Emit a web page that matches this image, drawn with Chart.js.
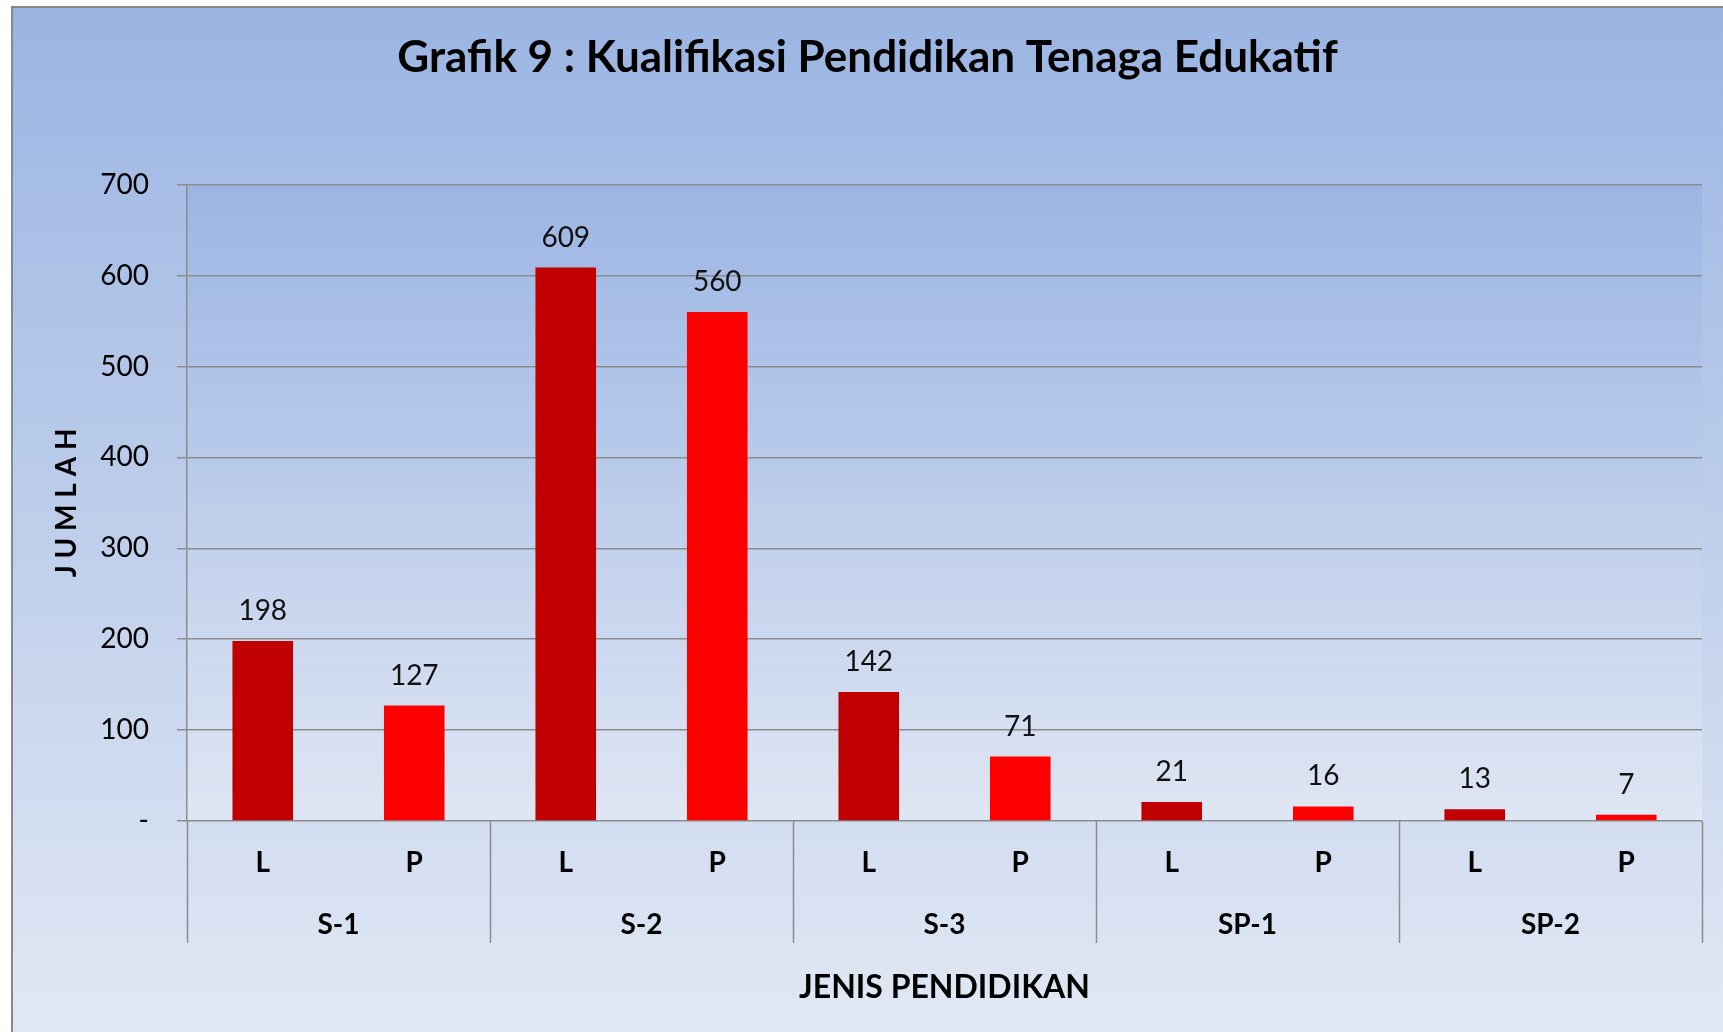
<!DOCTYPE html>
<html lang="id">
<head>
  <meta charset="UTF-8" />
  <title>Grafik 9 : Kualifikasi Pendidikan Tenaga Edukatif</title>
  <script src="https://cdn.jsdelivr.net/npm/chart.js"></script>
  <style>
    body {
      margin: 0;
      background: #ffffff;
    }
    .wrap {
      width: 1723px;
      height: 1032px;
    }
  </style>
</head>
<body>

<div class="wrap">
  <canvas id="grafik9" width="1723" height="1032"></canvas>
</div>

<script>
  // Data grafik
  const jenisPendidikan = ['S-1', 'S-2', 'S-3', 'SP-1', 'SP-2'];
  const jenisKelamin = ['L', 'P'];
  const jumlahL = [198, 609, 142, 21, 13];
  const jumlahP = [127, 560, 71, 16, 7];
  const yTicks = [0, 100, 200, 300, 400, 500, 600, 700];

  const warnaL = '#C00000';
  const warnaP = '#FF0000';
  const abu = '#8c8c8c';
  const FONT = 'Lato, "Open Sans", sans-serif';

  // label L/P untuk tiap batang, nilai dan warna dibentuk dari array di atas
  const labelBatang = jenisPendidikan.flatMap(() => jenisKelamin);
  const nilaiBatang = jenisPendidikan.flatMap((g, i) => [jumlahL[i], jumlahP[i]]);
  const warnaBatang = jenisPendidikan.flatMap(() => [warnaL, warnaP]);

  // latar belakang bergradasi + bingkai
  const latarPlugin = {
    id: 'latar',
    beforeDraw(chart) {
      const { ctx, width, height, chartArea } = chart;
      ctx.save();
      ctx.fillStyle = '#ffffff';
      ctx.fillRect(0, 0, width, height);

      let g = ctx.createLinearGradient(0, 7, 0, height);
      g.addColorStop(0, '#9ab4e2');
      g.addColorStop(1, '#e1e8f4');
      ctx.fillStyle = g;
      ctx.fillRect(12, 7, width - 12, height - 7);

      g = ctx.createLinearGradient(0, chartArea.top, 0, chartArea.bottom);
      g.addColorStop(0, '#9bb5e3');
      g.addColorStop(1, '#dfe6f3');
      ctx.fillStyle = g;
      ctx.fillRect(chartArea.left, chartArea.top, chartArea.right - chartArea.left, chartArea.bottom - chartArea.top);

      // bingkai kiri & atas
      ctx.strokeStyle = '#888888';
      ctx.lineWidth = 2;
      ctx.beginPath();
      ctx.moveTo(12, height);
      ctx.lineTo(12, 7);
      ctx.lineTo(width, 7);
      ctx.stroke();
      ctx.restore();
    }
  };

  // garis pemisah antar jenis pendidikan + angka di atas batang
  const labelPlugin = {
    id: 'labelBatang',
    afterDraw(chart) {
      const { ctx, chartArea } = chart;
      const x = chart.scales.x;
      const half = (x.getPixelForValue(1) - x.getPixelForValue(0)) / 2;
      ctx.save();
      ctx.strokeStyle = abu;
      ctx.lineWidth = 1.5;
      for (let k = 0; k <= jenisPendidikan.length; k++) {
        const px = Math.round(x.getPixelForValue(k * 2) - half) + 0.5;
        ctx.beginPath();
        ctx.moveTo(px, chartArea.bottom);
        ctx.lineTo(px, chartArea.bottom + 122);
        ctx.stroke();
      }

      ctx.fillStyle = '#111111';
      ctx.font = '28px ' + FONT;
      ctx.textAlign = 'center';
      ctx.textBaseline = 'middle';
      const meta = chart.getDatasetMeta(0);
      meta.data.forEach((bar, i) => {
        ctx.fillText(nilaiBatang[i], bar.x, bar.y - 30);
      });
      ctx.restore();
    }
  };

  new Chart(document.getElementById('grafik9'), {
    type: 'bar',
    data: {
      labels: labelBatang,
      datasets: [{
        data: nilaiBatang,
        backgroundColor: warnaBatang,
        borderWidth: 0,
        barPercentage: 0.4,
        categoryPercentage: 1.0
      }]
    },
    options: {
      responsive: false,
      devicePixelRatio: 1,
      animation: false,
      layout: { padding: { left: 12, right: 0, top: 0, bottom: 0 } },
      plugins: {
        legend: { display: false },
        tooltip: { enabled: false },
        title: {
          display: true,
          text: 'Grafik 9 : Kualifikasi Pendidikan Tenaga Edukatif',
          color: '#000000',
          font: { family: FONT, size: 44, weight: 'bold' },
          padding: { top: 31, bottom: 101 }
        }
      },
      scales: {
        x: {
          type: 'category',
          offset: true,
          grid: { display: false },
          border: { display: false },
          ticks: {
            color: '#000000',
            font: { family: FONT, size: 28, weight: 'bold' },
            padding: 17,
            maxRotation: 0,
            autoSkip: false
          },
          afterFit: s => { s.height = 70; }
        },
        x2: {
          type: 'category',
          position: 'bottom',
          labels: jenisPendidikan,
          offset: true,
          grid: { display: false },
          border: { display: false },
          ticks: {
            color: '#000000',
            font: { family: FONT, size: 28, weight: 'bold' },
            padding: 9,
            maxRotation: 0,
            autoSkip: false
          },
          title: {
            display: true,
            text: 'JENIS PENDIDIKAN',
            color: '#000000',
            font: { family: FONT, size: 32, weight: 'bold' },
            padding: { top: 0, bottom: 25 }
          },
          afterFit: s => { s.height = 141; }
        },
        y: {
          min: 0,
          max: 700,
          afterBuildTicks: s => { s.ticks = yTicks.map(v => ({ value: v })); },
          grid: { color: abu, lineWidth: 1.5, tickLength: 10 },
          border: { color: abu, width: 1.5 },
          ticks: {
            color: '#000000',
            font: { family: FONT, size: 28 },
            padding: 28,
            callback: v => (v === 0 ? '-' : v)
          },
          title: {
            display: true,
            text: 'J U M L A H',
            color: '#000000',
            font: { family: FONT, size: 28, weight: 'bold' },
            padding: { top: 38, bottom: 0 }
          },
          afterFit: s => { s.width = 175; }
        },
        yKanan: {
          position: 'right',
          display: true,
          grid: { display: false },
          border: { display: false },
          ticks: { display: false },
          afterFit: s => { s.width = 21; }
        }
      }
    },
    plugins: [latarPlugin, labelPlugin]
  });
</script>

</body>
</html>
